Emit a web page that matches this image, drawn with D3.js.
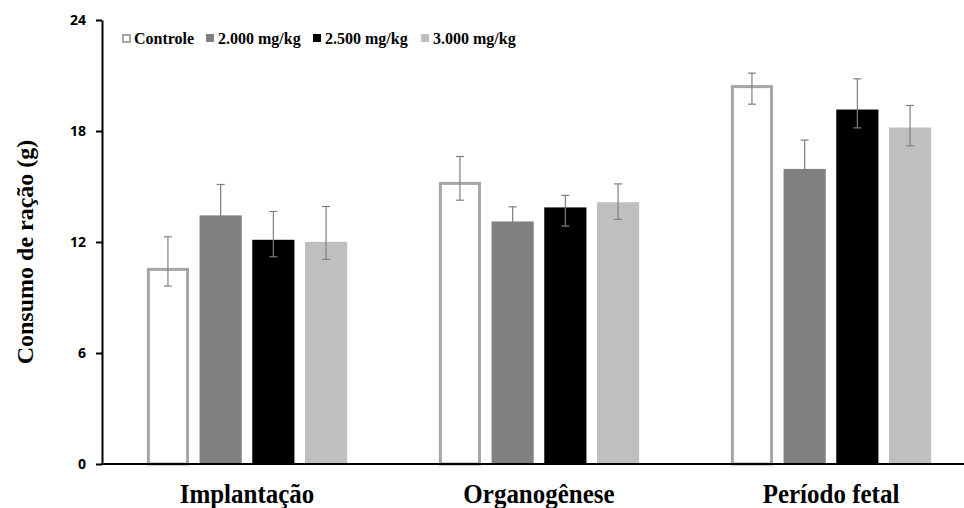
<!DOCTYPE html>
<html><head><meta charset="utf-8">
<script src="https://cdn.jsdelivr.net/npm/d3@7"></script>
<style>body{margin:0;background:#fff}</style>
</head><body>
<svg id="c" width="964" height="508"></svg>
<script>
const categories = ["Implantação", "Organogênese", "Período fetal"];
const seriesNames = ["Controle", "2.000 mg/kg", "2.500 mg/kg", "3.000 mg/kg"];
const controle   = [10.6, 15.25, 20.48];
const dose2000   = [13.44, 13.11, 15.95];
const dose2500   = [12.12, 13.87, 19.16];
const dose3000   = [12.01, 14.15, 18.19];
const errUpper = [[12.28, 16.62, 21.13],[15.11, 13.9, 17.51],[13.65, 14.52, 20.82],[13.92, 15.14, 19.38]];
const errLower = [[9.62, 14.26, 19.45],[12.45, 12.27, 14.97],[11.2, 12.86, 18.17],[11.06, 13.22, 17.2]];
const yTicks = [0, 6, 12, 18, 24];

const values = [controle, dose2000, dose2500, dose3000];
const fills = ["#ffffff", "#808080", "#000000", "#bfbfbf"];
const strokes = ["#a6a6a6", "none", "none", "none"];

const svg = d3.select("#c");
const y = d3.scaleLinear().domain([0, 24]).range([464, 20]);
const x0 = d3.scaleBand().domain(categories).range([101, 977]).paddingInner(0).paddingOuter(0);
const x1 = d3.scaleBand().domain(seriesNames).range([0, x0.bandwidth()]).paddingInner(0.2).paddingOuter(0.87);

const data = [];
categories.forEach((c, i) => seriesNames.forEach((s, j) => data.push({c, s, j, v: values[j][i], hi: errUpper[j][i], lo: errLower[j][i]})));

const g = svg.append("g");
g.selectAll("rect.bar").data(data).join("rect").attr("class","bar")
  .attr("x", d => x0(d.c) + x1(d.s) + (d.j===0?1.5:0))
  .attr("width", d => x1.bandwidth() - (d.j===0?3:0))
  .attr("y", d => y(d.v) + (d.j===0?1.5:0))
  .attr("height", d => y(0) - y(d.v) - (d.j===0?1.5:0))
  .attr("fill", d => fills[d.j]).attr("stroke", d => strokes[d.j]).attr("stroke-width", 3);

// error bars
const eb = g.selectAll("g.err").data(data).join("g").attr("class","err")
  .attr("transform", d => `translate(${x0(d.c) + x1(d.s) + x1.bandwidth()/2},0)`)
  .attr("stroke", "#7f7f7f").attr("stroke-width", 1.2);
eb.append("line").attr("y1", d => y(d.hi)).attr("y2", d => y(d.lo));
eb.append("line").attr("x1", -4).attr("x2", 4).attr("y1", d => y(d.hi)).attr("y2", d => y(d.hi));
eb.append("line").attr("x1", -4).attr("x2", 4).attr("y1", d => y(d.lo)).attr("y2", d => y(d.lo));

// y axis
const yAxis = d3.axisLeft(y).tickValues(yTicks).tickSize(6).tickSizeOuter(0).tickPadding(10);
const ya = svg.append("g").attr("transform", "translate(102,0)").call(yAxis);
ya.select(".domain").attr("stroke", "#000").attr("stroke-width", 2);
ya.selectAll(".tick line").attr("stroke", "#000").attr("stroke-width", 2);
ya.selectAll(".tick text").attr("font-family", "Open Sans, Liberation Sans, sans-serif").attr("font-weight", "bold").attr("font-size", 14).attr("fill", "#000");

// x axis
const xAxis = d3.axisBottom(x0).tickSize(0).tickPadding(0);
const xa = svg.append("g").attr("transform", "translate(0,464)").call(xAxis);
xa.select(".domain").attr("d", "M101,0H964").attr("stroke", "#000").attr("stroke-width", 2);
xa.selectAll(".tick text").attr("font-family", "Liberation Serif, serif").attr("font-weight", "bold").attr("font-size", 25).attr("fill", "#000")
  .attr("dy", null).attr("y", 0).attr("transform", "translate(0,39) scale(1,1.12)");

// y label
svg.append("text").attr("transform", "translate(33,252) rotate(-90)").attr("text-anchor", "middle")
  .attr("font-family", "Liberation Serif, serif").attr("font-weight", "bold").attr("font-size", 24).text("Consumo de ração (g)");

// legend
const legX = [122, 206, 313, 421];
const lg = svg.append("g").selectAll("g").data(seriesNames).join("g").attr("transform", (d,i) => `translate(${legX[i]},38)`);
lg.append("rect").attr("x", (d,i)=> i===0?1:0).attr("y", (d,i)=> i===0?-3:-4).attr("width", (d,i)=> i===0?7:8).attr("height", (d,i)=> i===0?7:8)
  .attr("fill", (d,i) => fills[i]).attr("stroke", (d,i) => strokes[i]).attr("stroke-width", 2);
lg.append("text").attr("x", 12).attr("y", 5.5).attr("font-family", "Liberation Serif, serif").attr("font-weight", "bold").attr("font-size", 16).text(d => d);
</script>
</body></html>
